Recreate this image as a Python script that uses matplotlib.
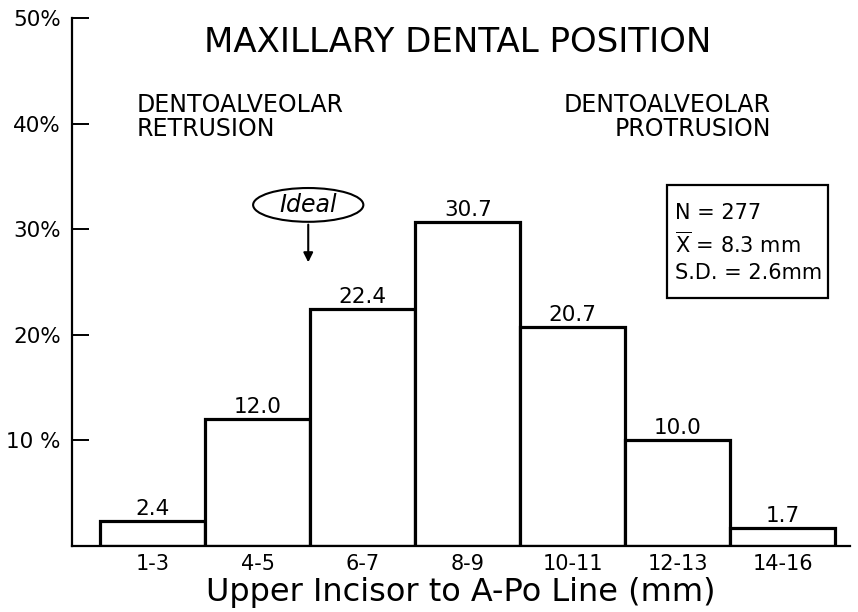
import matplotlib
matplotlib.use("Agg")
import matplotlib.pyplot as plt
from matplotlib.patches import Ellipse, Rectangle

categories = ["1-3", "4-5", "6-7", "8-9", "10-11", "12-13", "14-16"]
values = [2.4, 12.0, 22.4, 30.7, 20.7, 10.0, 1.7]
value_labels = ["2.4", "12.0", "22.4", "30.7", "20.7", "10.0", "1.7"]
ytick_vals = [10, 20, 30, 40, 50]
ytick_labels = ["10 %", "20%", "30%", "40%", "50%"]

plt.rcParams['font.family'] = ['DejaVu Sans']

fig = plt.figure(figsize=(8.58, 6.12), dpi=100)
ax = fig.add_axes([72/858, 1-546/612, (850-72)/858, (546-18)/612])

x = list(range(len(categories)))
ax.bar(x, values, width=1.0, color="white", edgecolor="black", linewidth=2.3, zorder=2)

for xi, v, lab in zip(x, values, value_labels):
    ax.text(xi, v + 0.2, lab, ha="center", va="bottom", fontsize=15.5)

ax.set_xlim(-0.77, 6.64)
ax.set_ylim(0, 50)

for s in ["top", "right"]:
    ax.spines[s].set_visible(False)
ax.spines["left"].set_linewidth(1.6)
ax.spines["bottom"].set_linewidth(1.6)

ax.set_yticks(ytick_vals)
ax.set_yticklabels(ytick_labels, fontsize=15.5)
ax.tick_params(axis="y", direction="in", length=12, width=1.4, pad=8)
ax.set_xticks(x)
ax.set_xticklabels(categories, fontsize=15)
ax.tick_params(axis="x", length=0, pad=6)
ax.set_xlabel("Upper Incisor to A-Po Line (mm)", fontsize=23, labelpad=2)

fig.text(458/858, 1-42/612, "MAXILLARY DENTAL POSITION", ha="center", va="center", fontsize=24.5)

ax.text((137-72)/778, 0.813, "DENTOALVEOLAR\nRETRUSION", transform=ax.transAxes,
        ha="left", va="center", fontsize=17, linespacing=1.0)
ax.text((771-72)/778, 0.813, "DENTOALVEOLAR\nPROTRUSION", transform=ax.transAxes,
        ha="right", va="center", multialignment="right", fontsize=17, linespacing=1.0)

# Ideal marker
ell = Ellipse((1.48, 32.3), 1.05, 3.2, facecolor="white", edgecolor="black", linewidth=1.5, zorder=3)
ax.add_patch(ell)
ax.text(1.48, 32.3, "Ideal", ha="center", va="center", fontsize=17, style="italic", zorder=4)
ax.annotate("", xy=(1.48, 26.6), xytext=(1.48, 30.7),
            arrowprops=dict(arrowstyle="-|>", color="black", lw=1.5, mutation_scale=14))

# stats box
ax.add_patch(Rectangle(((667-72)/778, (546-298)/528), (828-667)/778, (298-185)/528,
                       transform=ax.transAxes, facecolor="white", edgecolor="black",
                       linewidth=1.6, zorder=3))
ax.text((675-72)/778, (546-243)/528, "N = 277\n$\\overline{\\mathrm{X}}$ = 8.3 mm\nS.D. = 2.6mm",
        transform=ax.transAxes, ha="left", va="center", fontsize=15, linespacing=1.4, zorder=4)

fig.savefig("out.png", dpi=100)
